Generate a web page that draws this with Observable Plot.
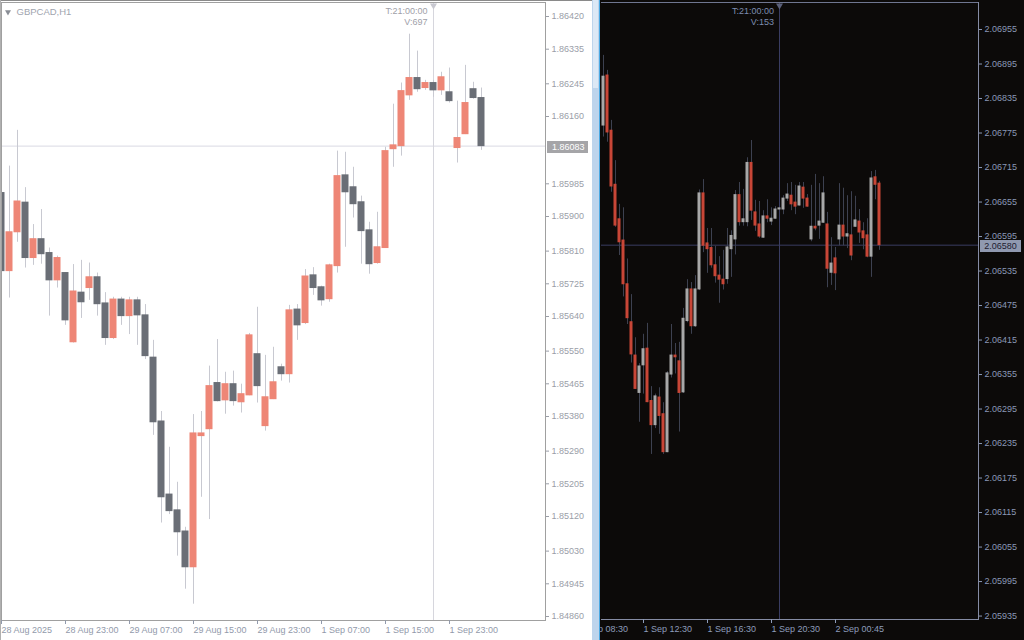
<!DOCTYPE html>
<html>
<head>
<meta charset="utf-8">
<script src="https://cdn.jsdelivr.net/npm/d3@7"></script>
<script src="https://cdn.jsdelivr.net/npm/@observablehq/plot@0.6"></script>
<style>
  html, body { margin:0; padding:0; width:1024px; height:640px; overflow:hidden; background:#fff; }
  #left { position:absolute; left:0; top:0; width:592px; height:640px; overflow:hidden; background:#fff; }
  #right { position:absolute; left:600px; top:0; width:424px; height:640px; overflow:hidden; background:#0c0a09; }
  #strip { position:absolute; left:592px; top:0; width:7px; height:640px; background:#bdd4ec; }
  #thumb { position:absolute; left:593px; top:0; width:5px; height:88px; background:#dce8f5; }
  #edge { position:absolute; left:599px; top:0; width:1px; height:640px; background:#4aa9e3; }
  #topline { position:absolute; left:0; top:0; width:592px; height:1px; background:#8a8a8a; }
  #leftline { position:absolute; left:0; top:0; width:1px; height:640px; background:#b0b0b0; }
  svg { display:block; }
</style>
</head>
<body>
<div id="left"></div>
<div id="strip"></div><div id="thumb"></div><div id="edge"></div>
<div id="right"></div>
<div id="topline"></div><div id="leftline"></div>
<script>
// ---------- GBPCAD H1 (left panel) ----------
const gbpcadOpen = [1.85961,1.85758,1.85859,1.85936,1.85792,1.85841,1.85805,1.85734,1.85753,1.85573,
  1.85702,1.85714,1.85742,1.85674,1.85584,1.85684,1.85641,1.85682,1.85643,1.85533,
  1.85367,1.85177,1.85136,1.85081,1.84988,1.85329,1.85347,1.85467,1.85422,1.85464,
  1.85417,1.85435,1.85542,1.85355,1.85425,1.85508,1.85490,1.85658,1.85623,1.85747,
  1.85716,1.85685,1.85771,1.86007,1.85976,1.85937,1.85864,1.85779,1.85818,1.86075,
  1.86083,1.86215,1.86260,1.86234,1.86247,1.86228,1.86223,1.86078,1.86114,1.86231,1.86208];
const gbpcadHigh = [1.85978,1.86031,1.86124,1.85975,1.85879,1.85918,1.85818,1.85797,1.85754,1.85775,
  1.85786,1.85779,1.85753,1.85702,1.85690,1.85690,1.85690,1.85690,1.85671,1.85578,
  1.85393,1.85300,1.85209,1.85092,1.85385,1.85393,1.85511,1.85580,1.85495,1.85498,
  1.85464,1.85596,1.85664,1.85539,1.85560,1.85516,1.85669,1.85671,1.85762,1.85767,
  1.85719,1.85776,1.86070,1.86067,1.86028,1.85953,1.85885,1.85911,1.86080,1.86192,
  1.86247,1.86374,1.86330,1.86254,1.86254,1.86275,1.86286,1.86200,1.86293,1.86249,1.86234];
const gbpcadLow = [1.85706,1.85688,1.85833,1.85766,1.85773,1.85776,1.85641,1.85714,1.85617,1.85571,
  1.85635,1.85682,1.85641,1.85565,1.85580,1.85617,1.85593,1.85565,1.85528,1.85331,
  1.85103,1.85125,1.85017,1.84931,1.84892,1.85170,1.85112,1.85418,1.85386,1.85407,
  1.85389,1.85434,1.85415,1.85342,1.85424,1.85472,1.85467,1.85578,1.85619,1.85695,
  1.85667,1.85677,1.85753,1.85820,1.85896,1.85776,1.85750,1.85776,1.85817,1.86028,
  1.86057,1.86202,1.86223,1.86228,1.86210,1.86215,1.86195,1.86039,1.86113,1.86205,1.86072];
const gbpcadClose = [1.85758,1.85859,1.85939,1.85792,1.85841,1.85802,1.85734,1.85792,1.85630,1.85705,
  1.85677,1.85742,1.85672,1.85584,1.85684,1.85641,1.85682,1.85643,1.85537,1.85365,
  1.85170,1.85134,1.85079,1.84988,1.85336,1.85336,1.85459,1.85420,1.85464,1.85420,
  1.85438,1.85591,1.85459,1.85430,1.85469,1.85490,1.85656,1.85617,1.85744,1.85714,
  1.85682,1.85773,1.86005,1.85963,1.85932,1.85862,1.85776,1.85820,1.86070,1.86085,
  1.86226,1.86260,1.86231,1.86247,1.86228,1.86262,1.86200,1.86104,1.86195,1.86208,1.86083];
const gbpcadPriceTicks = [1.86420,1.86335,1.86245,1.86160,1.85985,1.85900,1.85810,1.85725,1.85640,
  1.85550,1.85465,1.85380,1.85290,1.85205,1.85120,1.85030,1.84945,1.84860];
const gbpcadTimeTickIndex = [0, 8, 16, 24, 32, 40, 48, 56];
const gbpcadTimeTickLabels = ["28 Aug 2025","28 Aug 23:00","29 Aug 07:00","29 Aug 15:00",
  "29 Aug 23:00","1 Sep 07:00","1 Sep 15:00","1 Sep 23:00"];
const gbpcadLast = 1.86083;
const gbpcadCrossIndex = 54;
const gbpcadTitle = "GBPCAD,H1";
const gbpcadCrossText = "T:21:00:00\nV:697";

// ---------- M15 (right panel) ----------
const m15Open = [2.06788,2.06875,2.06779,2.06685,2.06625,2.06588,2.06512,2.06446,2.06388,2.06323,
  2.06371,2.06400,2.06309,2.06267,2.06315,2.06286,2.06220,2.06355,2.06388,2.06378,
  2.06324,2.06448,2.06503,2.06439,2.06503,2.06670,2.06583,2.06575,2.06545,2.06527,
  2.06520,2.06521,2.06573,2.06590,2.06667,2.06620,2.06620,2.06723,2.06637,2.06616,
  2.06593,2.06630,2.06621,2.06626,2.06642,2.06642,2.06661,2.06666,2.06654,2.06649,
  2.06680,2.06661,2.06590,2.06612,2.06614,2.06619,2.06616,2.06532,2.06557,2.06590,
  2.06614,2.06595,2.06597,2.06612,2.06621,2.06604,2.06597,2.06560,2.06698,2.06687];
const m15High = [2.06910,2.06884,2.06797,2.06727,2.06651,2.06645,2.06556,2.06494,2.06419,2.06374,
  2.06425,2.06444,2.06334,2.06321,2.06332,2.06306,2.06360,2.06442,2.06409,2.06411,
  2.06470,2.06520,2.06515,2.06527,2.06676,2.06694,2.06609,2.06609,2.06578,2.06560,
  2.06571,2.06609,2.06605,2.06675,2.06689,2.06677,2.06732,2.06762,2.06658,2.06656,
  2.06640,2.06659,2.06645,2.06647,2.06645,2.06666,2.06687,2.06689,2.06684,2.06689,
  2.06689,2.06668,2.06684,2.06703,2.06687,2.06699,2.06637,2.06593,2.06576,2.06687,
  2.06679,2.06666,2.06673,2.06665,2.06642,2.06619,2.06626,2.06708,2.06710,2.06691];
const m15Low = [2.06768,2.06759,2.06672,2.06611,2.06562,2.06490,2.06442,2.06375,2.06329,2.06272,
  2.06321,2.06306,2.06216,2.06261,2.06251,2.06216,2.06219,2.06349,2.06356,2.06255,
  2.06322,2.06445,2.06425,2.06437,2.06501,2.06567,2.06531,2.06540,2.06514,2.06479,
  2.06502,2.06512,2.06524,2.06563,2.06613,2.06613,2.06612,2.06623,2.06604,2.06592,
  2.06592,2.06619,2.06614,2.06625,2.06640,2.06633,2.06656,2.06640,2.06633,2.06648,
  2.06644,2.06646,2.06586,2.06605,2.06590,2.06618,2.06506,2.06510,2.06501,2.06579,
  2.06579,2.06574,2.06553,2.06611,2.06583,2.06572,2.06558,2.06524,2.06659,2.06571];
const m15Close = [2.06873,2.06776,2.06682,2.06614,2.06585,2.06512,2.06453,2.06390,2.06330,2.06369,
  2.06399,2.06307,2.06267,2.06317,2.06283,2.06220,2.06357,2.06388,2.06385,2.06323,
  2.06452,2.06503,2.06439,2.06503,2.06670,2.06579,2.06573,2.06545,2.06526,2.06520,
  2.06512,2.06576,2.06596,2.06667,2.06620,2.06625,2.06723,2.06640,2.06614,2.06595,
  2.06630,2.06626,2.06626,2.06642,2.06644,2.06661,2.06668,2.06651,2.06647,2.06682,
  2.06661,2.06647,2.06612,2.06609,2.06621,2.06670,2.06539,2.06548,2.06531,2.06614,
  2.06595,2.06599,2.06562,2.06623,2.06602,2.06592,2.06560,2.06696,2.06685,2.06580];
const m15PriceTicks = [2.06955,2.06895,2.06835,2.06775,2.06715,2.06655,2.06595,2.06535,2.06475,
  2.06415,2.06355,2.06295,2.06235,2.06175,2.06115,2.06055,2.05995,2.05935];
const m15TimeTickIndex = [-6, 10, 26, 42, 58];
const m15TimeTickLabels = ["1 Sep 08:30","1 Sep 12:30","1 Sep 16:30","1 Sep 20:30","2 Sep 00:45"];
const m15Last = 2.06580;
const m15CrossIndex = 44;
const m15CrossText = "T:21:00:00\nV:153";

// ---------- helpers ----------
const fmt5 = d3.format(".5f");
function candles(o, h, l, c) {
  return o.map((_, i) => ({i, o: o[i], h: h[i], l: l[i], c: c[i]}));
}
function priceTag(price, boxFill, textFill, textDx) {
  return (index, scales, values, dim) => {
    const y = Math.round(scales.y(price));
    const x0 = dim.width - dim.marginRight + 2;
    const g = d3.create("svg:g");
    g.append("rect").attr("x", x0).attr("y", y - 5).attr("width", 41).attr("height", 12).attr("fill", boxFill);
    g.append("text").attr("x", x0 + textDx).attr("y", y + 1).attr("dy", "0.34em")
      .attr("text-anchor", "start").attr("fill", textFill).attr("font-size", 9).text(fmt5(price));
    return g.node();
  };
}
const font = "'Liberation Sans', Arial, sans-serif";

// ---------- left chart ----------
const L = candles(gbpcadOpen, gbpcadHigh, gbpcadLow, gbpcadClose);
const leftLabel = new Map(gbpcadTimeTickIndex.map((d, i) => [d, gbpcadTimeTickLabels[i]]));
const leftChart = Plot.plot({
  width: 592, height: 640,
  marginLeft: 1, marginRight: 47, marginTop: 2, marginBottom: 20,
  style: {background: "transparent", fontFamily: font, fontSize: "9px"},
  x: {domain: [0, 68], axis: null},
  y: {domain: [1.848496, 1.864564], axis: null},
  color: {type: "identity"},
  marks: [
    Plot.ruleY([gbpcadLast], {stroke: "#d9d9e3"}),
    Plot.ruleX([gbpcadCrossIndex], {stroke: "#d6d6dd"}),
    Plot.ruleX(L, {x: "i", y1: "l", y2: "h", stroke: "#c8c9d1"}),
    Plot.rect(L, {x1: d => d.i - 0.4375, x2: d => d.i + 0.4375, y1: "o", y2: "c",
      fill: d => d.c >= d.o ? "#ee8676" : "#6a6e76", insetTop: -0.5, insetBottom: -0.5}),
    Plot.frame({stroke: "#a0a0a0"}),
    Plot.axisY(gbpcadPriceTicks, {anchor: "right", label: null, tickSize: 3, tickPadding: 3, tickFormat: fmt5, color: "#9a9ea8"}),
    Plot.axisX(gbpcadTimeTickIndex, {anchor: "bottom", label: null, tickSize: 4, tickPadding: 2,
      tickFormat: d => leftLabel.get(d), textAnchor: "start", color: "#929aab"}),
    Plot.text([gbpcadTitle], {frameAnchor: "top-left", dx: 15, dy: 6, textAnchor: "start", lineAnchor: "top",
      fill: "#a0a4ae", fontSize: 9.5}),
    Plot.dot([0], {frameAnchor: "top-left", dx: 6.5, dy: 9.5, symbol: "triangle", rotate: 180, r: 2.2, fill: "#8a8e96", stroke: null}),
    Plot.text([gbpcadCrossText], {x: () => gbpcadCrossIndex, frameAnchor: "top", textAnchor: "end", lineAnchor: "top",
      dx: -6, dy: 4, lineHeight: 1.19, fill: "#a0a0a8"}),
    Plot.dot([gbpcadCrossIndex], {x: d => d, frameAnchor: "top", dy: 3, symbol: "triangle", rotate: 180, r: 2.6, fill: "#c8c8d0", stroke: null}),
    priceTag(gbpcadLast, "#a5a5a8", "#ffffff", 5)
  ]
});
document.getElementById("left").appendChild(leftChart);

// ---------- right chart ----------
const R = candles(m15Open, m15High, m15Low, m15Close);
const rightLabel = new Map(m15TimeTickIndex.map((d, i) => [d, m15TimeTickLabels[i]]));
const rightChart = Plot.plot({
  width: 424, height: 640,
  marginLeft: 1, marginRight: 46, marginTop: 2, marginBottom: 21,
  style: {background: "transparent", fontFamily: font, fontSize: "9px"},
  x: {domain: [-0.5, 93.75], axis: null},
  y: {domain: [2.05929, 2.07002], axis: null},
  color: {type: "identity"},
  marks: [
    Plot.ruleY([m15Last], {stroke: "#3a3d62"}),
    Plot.ruleX([m15CrossIndex], {stroke: "#3a3d62"}),
    Plot.ruleX(R, {x: "i", y1: "l", y2: "h", stroke: "#3d4150"}),
    Plot.rect(R, {x1: d => d.i - 0.375, x2: d => d.i + 0.375, y1: "o", y2: "c",
      fill: d => d.c >= d.o ? "#a8a8a8" : "#c84637", insetTop: -0.5, insetBottom: -0.5}),
    Plot.frame({anchor: "top", stroke: "#6f7690"}),
    Plot.frame({anchor: "right", stroke: "#858ca4"}),
    Plot.frame({anchor: "bottom", stroke: "#858ca4"}),
    Plot.axisY(m15PriceTicks, {anchor: "right", label: null, tickSize: 3, tickPadding: 3, tickFormat: fmt5, color: "#8a98b6"}),
    Plot.axisX(m15TimeTickIndex, {anchor: "bottom", label: null, tickSize: 4, tickPadding: 2,
      tickFormat: d => rightLabel.get(d), textAnchor: "start", color: "#8d9cba"}),
    Plot.text([m15CrossText], {x: () => m15CrossIndex, frameAnchor: "top", textAnchor: "end", lineAnchor: "top",
      dx: -5.5, dy: 4, lineHeight: 1.22, fill: "#7d8db0"}),
    Plot.dot([m15CrossIndex], {x: d => d, frameAnchor: "top", dy: 3, symbol: "triangle", rotate: 180, r: 2.6, fill: "#5a607a", stroke: null}),
    priceTag(m15Last, "#9099b0", "#1d2030", 4.3)
  ]
});
document.getElementById("right").appendChild(rightChart);
</script>
</body>
</html>
